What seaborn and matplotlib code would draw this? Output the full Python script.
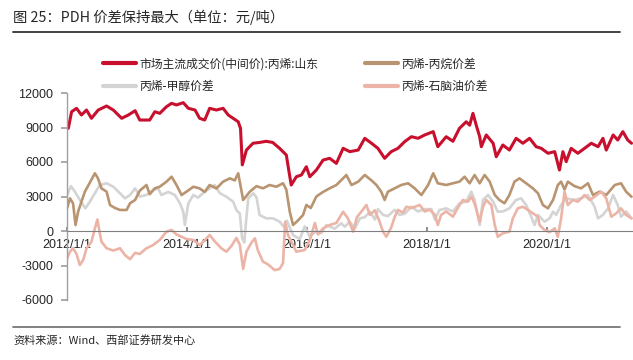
import pandas as pd
import seaborn as sns
import matplotlib.pyplot as plt
from matplotlib.lines import Line2D

# 市场主流成交价(中间价):丙烯:山东
price_dates = ["2012-01-09", "2012-01-29", "2012-02-28", "2012-03-29", "2012-04-29", "2012-05-29",
               "2012-07-09", "2012-08-29", "2012-10-09", "2012-11-29", "2013-01-09", "2013-02-19",
               "2013-03-19", "2013-05-19", "2013-06-19", "2013-07-19", "2013-08-29", "2013-09-29",
               "2013-10-29", "2013-12-09", "2014-01-09", "2014-02-19", "2014-03-19", "2014-04-19",
               "2014-05-19", "2014-06-29", "2014-08-09", "2014-09-09", "2014-10-09", "2014-11-09",
               "2014-11-23", "2014-12-04", "2014-12-29", "2015-02-07", "2015-03-19", "2015-04-29",
               "2015-06-07", "2015-07-19", "2015-08-29", "2015-09-16", "2015-09-28", "2015-10-29",
               "2015-11-29", "2015-12-29", "2016-01-19", "2016-02-28", "2016-04-09", "2016-05-19",
               "2016-06-29", "2016-08-09", "2016-09-19", "2016-11-09", "2016-12-19", "2017-01-29",
               "2017-03-09", "2017-04-19", "2017-05-29", "2017-07-09", "2017-08-19", "2017-09-29",
               "2017-11-09", "2017-12-19", "2018-02-09", "2018-03-09", "2018-04-29", "2018-06-09",
               "2018-07-19", "2018-08-29", "2018-09-19", "2018-10-09", "2018-10-29", "2018-11-19",
               "2018-11-29", "2018-12-29", "2019-02-09", "2019-02-28", "2019-04-09", "2019-05-19",
               "2019-06-29", "2019-08-09", "2019-09-19", "2019-10-29", "2019-11-29", "2020-01-09",
               "2020-02-19", "2020-03-19", "2020-04-09", "2020-04-29", "2020-05-29", "2020-07-09",
               "2020-08-19", "2020-09-29", "2020-11-09", "2020-12-09", "2020-12-29", "2021-02-09",
               "2021-03-09", "2021-04-09", "2021-05-09", "2021-06-01"]
price_values = [8930, 10370, 10670, 10090, 10520, 9800, 10520, 10870, 10520, 9800, 10090, 10460,
                9650, 9650, 10370, 10230, 10810, 11100, 10960, 11160, 10670, 10520, 9800, 9650,
                10670, 10520, 10670, 10090, 9800, 9500, 8930, 5750, 7040, 7630, 7700, 7800,
                7700, 7190, 6610, 5020, 4000, 4720, 4870, 5590, 4720, 5300, 6170, 6320,
                5880, 7190, 6900, 7040, 8060, 7630, 7190, 6320, 6900, 7190, 7770, 8200,
                8060, 8350, 8640, 7330, 8200, 7800, 8930, 9500, 9200, 10230, 9200, 8200,
                7330, 8350, 7630, 6460, 7480, 7040, 8060, 7630, 8060, 7330, 7190, 6760,
                6900, 5300, 6900, 6030, 7190, 6760, 7190, 7630, 7330, 8060, 7040, 8350,
                7910, 8640, 7910, 7630]

# 丙烯-甲醇价差
methanol_dates = ["2012-01-02", "2012-01-25", "2012-02-19", "2012-03-19", "2012-04-22", "2012-05-19",
                  "2012-06-19", "2012-07-19", "2012-08-29", "2012-10-09", "2012-11-19", "2012-12-19",
                  "2013-01-19", "2013-02-19", "2013-03-19", "2013-04-29", "2013-06-09", "2013-07-09",
                  "2013-07-29", "2013-09-09", "2013-10-19", "2013-11-19", "2013-12-09", "2013-12-19",
                  "2014-01-09", "2014-02-09", "2014-03-09", "2014-04-19", "2014-05-19", "2014-06-19",
                  "2014-07-19", "2014-08-29", "2014-10-09", "2014-10-29", "2014-11-19", "2014-12-03",
                  "2014-12-16", "2014-12-28", "2015-01-09", "2015-02-09", "2015-03-01", "2015-03-19",
                  "2015-04-29", "2015-06-09", "2015-07-19", "2015-08-19", "2015-09-01", "2015-10-09",
                  "2015-11-19", "2015-12-19", "2016-01-19", "2016-02-28", "2016-03-29", "2016-04-29",
                  "2016-06-19", "2016-07-29", "2016-08-19", "2016-09-19", "2016-10-19", "2016-11-19",
                  "2016-12-19", "2017-01-19", "2017-02-19", "2017-03-09", "2017-04-09", "2017-05-09",
                  "2017-06-19", "2017-07-19", "2017-08-19", "2017-09-29", "2017-11-09", "2017-12-19",
                  "2018-01-29", "2018-02-19", "2018-03-19", "2018-04-29", "2018-06-09", "2018-07-19",
                  "2018-08-29", "2018-09-29", "2018-10-19", "2018-11-19", "2018-12-09", "2019-01-09",
                  "2019-02-09", "2019-03-09", "2019-04-09", "2019-05-19", "2019-06-29", "2019-07-29",
                  "2019-08-29", "2019-09-29", "2019-10-19", "2019-11-09", "2019-12-19", "2020-01-19",
                  "2020-02-09", "2020-02-28", "2020-03-29", "2020-04-29", "2020-06-19", "2020-07-29",
                  "2020-09-09", "2020-10-19", "2020-11-09", "2020-12-09", "2021-01-09", "2021-02-09",
                  "2021-03-09", "2021-03-29", "2021-04-29", "2021-06-01"]
methanol_values = [3130, 3900, 3400, 2700, 1970, 2550, 3280, 4000, 4150, 3850, 3280, 2840,
                   3130, 3710, 3000, 3130, 3570, 3700, 3130, 3400, 3130, 2410, 1680, 520,
                   2400, 3130, 2900, 3420, 3700, 4000, 3300, 2980, 2550, 1830, 1500, -640,
                   -1000, 1000, 2840, 3280, 2900, 1390, 1100, 1100, 810, 300, 900, -350,
                   -700, 400, -500, 0, -200, 520, 200, 670, 370, 800, 200, 1100,
                   1200, 1680, 1000, 1900, 1400, 1300, 1830, 1400, 1500, 2110, 1700, 1900,
                   1900, 1000, 1830, 1970, 1700, 2410, 2550, 3420, 2700, 520, 2700, 3130,
                   2550, 1680, 1700, 1970, 2700, 2840, 2260, 1240, 520, 1400, 810, 1100,
                   1680, 1400, 2260, 2840, 2700, 2840, 3130, 2110, 1100, 1400, 1970, 3130,
                   2260, 1240, 1700, 1100]

# 丙烯-丙烷价差
propane_dates = ["2012-01-02", "2012-01-19", "2012-02-07", "2012-02-22", "2012-03-09", "2012-03-29",
                 "2012-04-19", "2012-05-19", "2012-06-19", "2012-07-07", "2012-07-29", "2012-08-29",
                 "2012-09-19", "2012-10-19", "2012-11-19", "2012-12-29", "2013-01-19", "2013-02-19",
                 "2013-03-19", "2013-04-29", "2013-05-19", "2013-06-19", "2013-07-19", "2013-08-29",
                 "2013-09-29", "2013-10-29", "2013-11-29", "2013-12-29", "2014-02-09", "2014-03-19",
                 "2014-04-19", "2014-05-19", "2014-06-29", "2014-08-09", "2014-09-19", "2014-10-19",
                 "2014-11-09", "2014-12-09", "2015-01-19", "2015-02-28", "2015-04-09", "2015-05-19",
                 "2015-06-29", "2015-08-09", "2015-08-29", "2015-09-19", "2015-10-09", "2015-11-07",
                 "2015-12-09", "2015-12-29", "2016-01-25", "2016-02-28", "2016-04-09", "2016-05-19",
                 "2016-06-29", "2016-08-09", "2016-08-29", "2016-09-29", "2016-11-09", "2016-12-19",
                 "2017-01-29", "2017-02-28", "2017-03-29", "2017-04-19", "2017-05-09", "2017-06-19",
                 "2017-07-29", "2017-09-09", "2017-10-19", "2017-11-29", "2018-01-09", "2018-02-09",
                 "2018-03-09", "2018-04-29", "2018-06-09", "2018-07-19", "2018-08-19", "2018-09-19",
                 "2018-10-19", "2018-11-19", "2018-12-19", "2019-01-19", "2019-02-19", "2019-03-19",
                 "2019-04-19", "2019-05-19", "2019-06-19", "2019-07-19", "2019-08-29", "2019-10-09",
                 "2019-11-09", "2019-12-09", "2020-01-09", "2020-02-09", "2020-03-09", "2020-03-29",
                 "2020-04-19", "2020-05-09", "2020-06-19", "2020-07-29", "2020-09-09", "2020-10-09",
                 "2020-11-19", "2020-12-29", "2021-02-19", "2021-03-29", "2021-04-29", "2021-06-01"]
propane_values = [2000, 2840, 2400, 520, 1700, 2550, 3420, 4200, 5020, 4600, 3710, 3420,
                  2260, 2000, 1830, 1830, 2410, 2700, 3500, 4000, 3200, 3710, 3850, 4290,
                  4720, 4000, 3130, 3420, 3850, 3700, 3400, 4000, 3700, 4290, 4580, 4400,
                  5020, 2700, 3420, 3900, 3710, 4000, 3850, 4150, 3600, 1680, 520, 900,
                  1390, 2260, 2000, 3000, 3400, 3710, 4000, 4580, 4870, 4000, 4290, 4870,
                  4400, 4000, 3420, 2700, 3420, 3710, 4000, 4150, 3710, 3130, 4000, 5020,
                  4150, 4000, 4150, 4290, 4720, 4150, 4870, 4150, 4870, 4290, 3130, 2700,
                  2410, 3130, 4290, 4580, 4150, 3710, 3280, 2260, 1970, 2700, 4000, 4290,
                  3600, 4290, 3900, 3710, 4150, 3130, 3420, 3130, 4000, 4150, 3420, 2980]

# 丙烯-石脑油价差
naphtha_dates = ["2012-01-02", "2012-01-19", "2012-02-07", "2012-02-28", "2012-03-19", "2012-04-09",
                 "2012-04-29", "2012-05-29", "2012-06-19", "2012-07-04", "2012-07-19", "2012-07-29",
                 "2012-08-29", "2012-10-09", "2012-11-19", "2012-12-19", "2013-01-19", "2013-02-19",
                 "2013-03-19", "2013-04-29", "2013-06-09", "2013-07-19", "2013-08-29", "2013-09-29",
                 "2013-10-29", "2013-11-29", "2013-12-29", "2014-02-09", "2014-03-19", "2014-04-19",
                 "2014-05-19", "2014-06-19", "2014-07-29", "2014-08-29", "2014-09-29", "2014-10-29",
                 "2014-11-19", "2014-12-09", "2014-12-29", "2015-01-29", "2015-02-19", "2015-03-09",
                 "2015-04-09", "2015-05-09", "2015-06-19", "2015-07-19", "2015-08-09", "2015-08-22",
                 "2015-09-07", "2015-09-29", "2015-10-29", "2015-12-19", "2016-01-19", "2016-02-19",
                 "2016-03-09", "2016-04-09", "2016-05-19", "2016-06-29", "2016-08-09", "2016-09-07",
                 "2016-10-09", "2016-11-01", "2016-11-29", "2016-12-29", "2017-01-19", "2017-02-19",
                 "2017-03-19", "2017-04-09", "2017-04-29", "2017-05-29", "2017-06-19", "2017-07-09",
                 "2017-08-09", "2017-08-29", "2017-09-29", "2017-11-19", "2017-12-19", "2018-01-19",
                 "2018-02-19", "2018-03-09", "2018-03-29", "2018-04-29", "2018-06-09", "2018-07-19",
                 "2018-08-09", "2018-09-09", "2018-09-29", "2018-10-19", "2018-11-19", "2018-12-09",
                 "2018-12-29", "2019-01-29", "2019-02-19", "2019-03-09", "2019-04-09", "2019-05-19",
                 "2019-06-09", "2019-07-09", "2019-08-09", "2019-09-09", "2019-10-09", "2019-11-09",
                 "2019-11-19", "2019-12-19", "2020-01-19", "2020-02-19", "2020-03-09", "2020-03-29",
                 "2020-04-19", "2020-05-09", "2020-06-09", "2020-07-09", "2020-08-19", "2020-09-19",
                 "2020-10-19", "2020-11-29", "2020-12-29", "2021-01-29", "2021-02-28", "2021-03-29",
                 "2021-04-29", "2021-06-01"]
naphtha_values = [-2380, -1800, -1500, -2000, -2960, -2500, -1500, -930, 230, 1000, -200, -930,
                  -1500, -1700, -1500, -2090, -2450, -1900, -2000, -1500, -1220, -780, -60, 90,
                  -300, -500, -700, -780, -1220, -800, -350, -900, -1500, -1800, -1300, -600,
                  -1200, -3300, -1800, -1000, -640, -1700, -2670, -2900, -3400, -3300, -2800, 800,
                  -300, -930, -1800, -1650, -800, 700, -300, 230, 520, 700, 1680, 1100,
                  -60, 1200, 1700, 2260, 1400, 1800, 810, -60, -500, 300, 1200, 1830,
                  1600, 2110, 2000, 2260, 1700, 1850, 1400, 520, 1400, 1700, 1250, 2260,
                  2700, 2550, 2980, 2400, 810, 2100, 2700, 2260, 520, -500, -200, -60,
                  1100, 1970, 2110, 1830, 1540, 1240, 520, 90, -100, 230, -500, 1100,
                  3420, 2260, 2700, 2550, 3130, 2700, 2980, 3420, 2840, 1240, 1540, 1970,
                  1400, 1100]

series_names = ["市场主流成交价(中间价):丙烯:山东", "丙烯-甲醇价差", "丙烯-丙烷价差", "丙烯-石脑油价差"]
series_colors = ["#C8102E", "#D4D4D4", "#B99470", "#ECB4A6"]
y_ticks = [-6000, -3000, 0, 3000, 6000, 9000, 12000]
x_ticks = ["2012-01-01", "2014-01-01", "2016-01-01", "2018-01-01", "2020-01-01"]
x_tick_labels = ["2012/1/1", "2014/1/1", "2016/1/1", "2018/1/1", "2020/1/1"]

frames = []
for name, d, v in zip(series_names,
                      [price_dates, methanol_dates, propane_dates, naphtha_dates],
                      [price_values, methanol_values, propane_values, naphtha_values]):
    frames.append(pd.DataFrame({"date": pd.to_datetime(d), "value": v, "series": name}))
df = pd.concat(frames, ignore_index=True)

sns.set_theme(style="white")
plt.rcParams['font.family'] = ['Noto Sans CJK SC', 'DejaVu Sans']

fig = plt.figure(figsize=(6.33, 3.6), dpi=100)
ax = fig.add_axes([67 / 633, 60 / 360, 566 / 633, 207 / 360])

# red line a touch heavier than the spreads
widths = [2.2, 1.9, 1.9, 1.9]
for name, color, w in zip(series_names, series_colors, widths):
    sub = df[df["series"] == name]
    sns.lineplot(data=sub, x="date", y="value", color=color, lw=w,
                 estimator=None, ax=ax, legend=False)

ax.set_ylim(-6000, 12000)
ax.set_xlim(pd.Timestamp("2012-01-01"), pd.Timestamp("2021-06-10"))
ax.set_yticks(y_ticks)
ax.set_yticklabels([str(t) for t in y_ticks])
ax.set_xticks(pd.to_datetime(x_ticks))
ax.set_xticklabels(x_tick_labels)
ax.set_xlabel("")
ax.set_ylabel("")

for s in ["top", "right"]:
    ax.spines[s].set_visible(False)
ax.spines["left"].set_color("#A0A0A0")
ax.spines["bottom"].set_color("#808080")
ax.spines["bottom"].set_position(("data", 0))
ax.spines["left"].set_linewidth(1.0)
ax.spines["bottom"].set_linewidth(0.8)
ax.tick_params(axis="y", direction="out", length=4, color="#A0A0A0", left=True, pad=6,
               labelsize=9, labelfontfamily="Liberation Sans")
ax.tick_params(axis="x", direction="in", length=3, color="#808080", bottom=True, pad=6,
               labelsize=9, labelfontfamily="Liberation Sans")
ax.set_facecolor("white")

handles = [Line2D([], [], color=c, lw=3) for c in series_colors]
fig.legend(handles, series_names, loc="upper left", bbox_to_anchor=(0.146, 0.87), ncol=2,
           frameon=False, fontsize=8.5, handlelength=2.8, handletextpad=0.3,
           columnspacing=3.9, labelspacing=0.8)

fig.text(0.0205, 0.953, "图 25：PDH 价差保持最大（单位：元/吨）", fontsize=10.3, va="center", ha="left")
fig.add_artist(Line2D([0.02, 0.98], [0.911, 0.911], transform=fig.transFigure, color="#333333", lw=1.3))
fig.add_artist(Line2D([0.02, 0.98], [0.092, 0.092], transform=fig.transFigure, color="#777777", lw=1.3))
fig.text(0.0205, 0.053, "资料来源：Wind、西部证券研发中心", fontsize=8, va="center", ha="left")

fig.savefig("out.png", dpi=100, facecolor="white")
